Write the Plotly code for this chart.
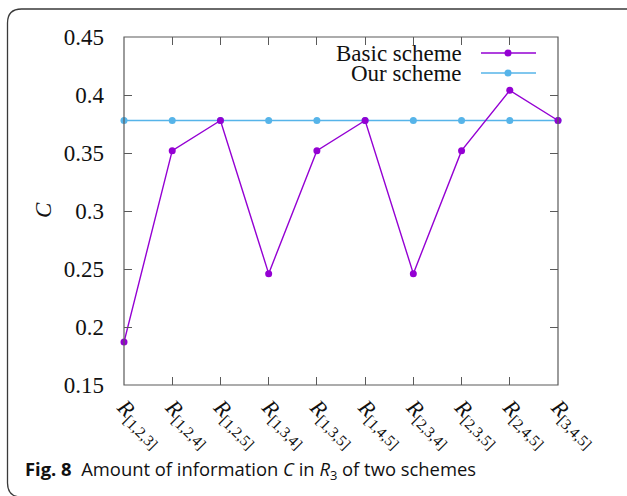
import plotly.graph_objects as go

# Subsets of three shares and the information amount C for each scheme
subsets = ["1,2,3", "1,2,4", "1,2,5", "1,3,4", "1,3,5",
           "1,4,5", "2,3,4", "2,3,5", "2,4,5", "3,4,5"]
basic_scheme = [0.187, 0.352, 0.378, 0.246, 0.352, 0.378, 0.246, 0.352, 0.404, 0.378]
our_scheme = [0.378, 0.378, 0.378, 0.378, 0.378, 0.378, 0.378, 0.378, 0.378, 0.378]
y_ticks = [0.15, 0.2, 0.25, 0.3, 0.35, 0.4, 0.45]

W, H = 627, 496
L, R, T, B = 124, 69, 37, 111
PW, PH = W - L - R, H - T - B

PURPLE = "#9400d3"
BLUE = "#56b4e9"
AXIS = "#5a5a5a"
SERIF = "Liberation Serif"
SANS = "Open Sans"

x = list(range(len(subsets)))
tick_text = [f"<i>R</i><sub>[{s}]</sub>" for s in subsets]


def px_x(p):
    return (p - L) / PW


def px_y(p):
    return 1 - (p - T) / PH


fig = go.Figure()
fig.add_trace(go.Scatter(x=x, y=our_scheme, mode="lines+markers", name="Our scheme",
                         line=dict(color=BLUE, width=1.6),
                         marker=dict(color=BLUE, size=7), cliponaxis=False))
fig.add_trace(go.Scatter(x=x, y=basic_scheme, mode="lines+markers", name="Basic scheme",
                         line=dict(color=PURPLE, width=1.4),
                         marker=dict(color=PURPLE, size=7), cliponaxis=False))

shapes = []
# plot frame
shapes.append(dict(type="rect", xref="paper", yref="paper", x0=0, x1=1, y0=0, y1=1,
                   line=dict(color=AXIS, width=1.2), layer="above"))

# rounded outer box (partly cropped on the right and bottom)
bx0, bx1, by0, by1, r = 7.5, 640, 9, 497, 14
path = (f"M {px_x(bx0)},{px_y(by0 + r)} "
        f"Q {px_x(bx0)},{px_y(by0)} {px_x(bx0 + r)},{px_y(by0)} "
        f"L {px_x(bx1 - r)},{px_y(by0)} "
        f"Q {px_x(bx1)},{px_y(by0)} {px_x(bx1)},{px_y(by0 + r)} "
        f"L {px_x(bx1)},{px_y(by1 - r)} "
        f"Q {px_x(bx1)},{px_y(by1)} {px_x(bx1 - r)},{px_y(by1)} "
        f"L {px_x(bx0 + r)},{px_y(by1)} "
        f"Q {px_x(bx0)},{px_y(by1)} {px_x(bx0)},{px_y(by1 - r)} Z")
shapes.append(dict(type="path", xref="paper", yref="paper", path=path,
                   line=dict(color="#3a3a3a", width=1.3)))

# legend samples
legend_rows = [("Basic scheme", PURPLE, 53), ("Our scheme", BLUE, 73)]
annotations = []
for label, color, yy in legend_rows:
    shapes.append(dict(type="line", xref="paper", yref="paper",
                       x0=px_x(481), x1=px_x(536), y0=px_y(yy), y1=px_y(yy),
                       line=dict(color=color, width=1.5)))
    shapes.append(dict(type="circle", xref="paper", yref="paper",
                       xsizemode="pixel", ysizemode="pixel",
                       xanchor=px_x(508), yanchor=px_y(yy),
                       x0=-3.5, x1=3.5, y0=-3.5, y1=3.5,
                       fillcolor=color, line=dict(color=color, width=0)))
    annotations.append(dict(text=label, xref="paper", yref="paper",
                            x=px_x(464), y=px_y(yy), xanchor="right", yanchor="middle",
                            showarrow=False, height=20,
                            font=dict(family=SERIF, size=23, color="#111")))

# y-axis title
annotations.append(dict(text="<i>C</i>", xref="paper", yref="paper",
                        x=px_x(43), y=px_y(210), textangle=-90,
                        xanchor="center", yanchor="middle", showarrow=False,
                        font=dict(family=SERIF, size=23, color="#111")))

# caption
annotations.append(dict(text="<b>Fig. 8</b>  Amount of information <i>C</i> in <i>R</i><sub>3</sub> of two schemes",
                        xref="paper", yref="paper", x=px_x(23), y=px_y(470),
                        xanchor="left", yanchor="middle", showarrow=False,
                        font=dict(family=SANS, size=18.4, color="#111")))

fig.update_layout(
    width=W, height=H,
    margin=dict(l=L, r=R, t=T, b=B),
    paper_bgcolor="white", plot_bgcolor="white",
    font=dict(family=SERIF, color="#111"),
    showlegend=False,
    shapes=shapes, annotations=annotations,
    xaxis=dict(range=[0, 9], tickvals=x, ticktext=tick_text, tickangle=45,
               showgrid=False, zeroline=False, showline=False,
               ticks="inside", ticklen=8, tickcolor=AXIS, tickwidth=1.2, mirror="ticks",
               ticklabelstandoff=4,
               tickfont=dict(family=SERIF, size=22, color="#111")),
    yaxis=dict(range=[0.15, 0.45], tickvals=y_ticks,
               ticktext=[f"{v:g}" for v in y_ticks],
               showgrid=False, zeroline=False, showline=False,
               ticks="inside", ticklen=8, tickcolor=AXIS, tickwidth=1.2, mirror="ticks",
               ticklabelstandoff=19,
               tickfont=dict(family=SERIF, size=23, color="#111")),
)

fig.write_html("out.html")
